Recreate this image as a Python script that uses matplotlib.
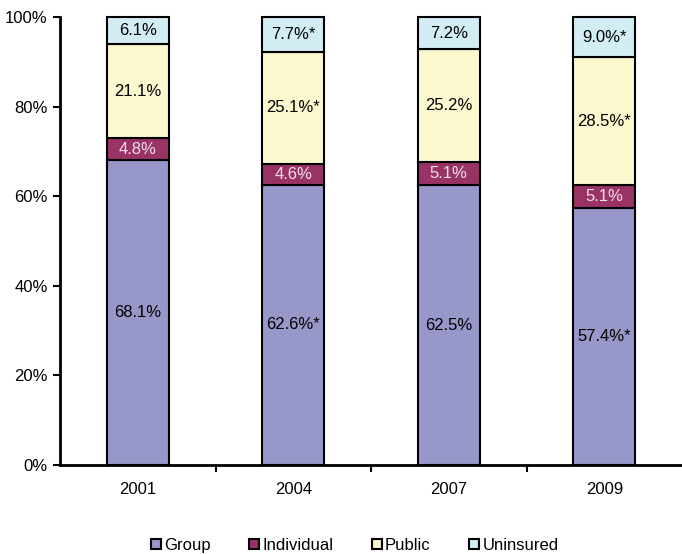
import matplotlib
matplotlib.use("Agg")
import matplotlib.pyplot as plt
import numpy as np

years = ["2001", "2004", "2007", "2009"]
group = [68.1, 62.6, 62.5, 57.4]
individual = [4.8, 4.6, 5.1, 5.1]
public = [21.1, 25.1, 25.2, 28.5]
uninsured = [6.1, 7.7, 7.2, 9.0]
group_lbl = ["68.1%", "62.6%*", "62.5%", "57.4%*"]
individual_lbl = ["4.8%", "4.6%", "5.1%", "5.1%"]
public_lbl = ["21.1%", "25.1%*", "25.2%", "28.5%*"]
uninsured_lbl = ["6.1%", "7.7%*", "7.2%", "9.0%*"]
series_names = ["Group", "Individual", "Public", "Uninsured"]
yticks = [0, 20, 40, 60, 80, 100]

plt.rcParams['font.family'] = ['Liberation Sans', 'DejaVu Sans']
fs = 12

fig = plt.figure(figsize=(6.82, 5.54), dpi=100)
ax = fig.add_axes([0.088, 0.1606, 0.912, 0.8087])

colors = ["#9797c9", "#993366", "#fbf8d0", "#d3edf4"]
txtcol = ["black", "#f0e0ea", "black", "black"]
data = [group, individual, public, uninsured]
labels = [group_lbl, individual_lbl, public_lbl, uninsured_lbl]

x = np.arange(len(years))
bottom = np.zeros(len(years))
for vals, c, tc, lbls, name in zip(data, colors, txtcol, labels, series_names):
    vals = np.array(vals)
    ax.bar(x, vals, bottom=bottom, width=0.4, color=c, edgecolor="black",
           linewidth=1.5, label=name, clip_on=False)
    for xi, b, v, l in zip(x, bottom, vals, lbls):
        ax.text(xi, b + v / 2, l, ha="center", va="center", fontsize=fs, color=tc)
    bottom = bottom + vals

ax.set_xlim(-0.5, 3.5)
ax.set_ylim(0, 100)
ax.set_yticks(yticks)
ax.set_yticklabels([f"{t}%" for t in yticks], fontsize=fs)
ax.set_xticks(x)
ax.set_xticklabels(years, fontsize=fs)
ax.set_xticks([0.5, 1.5, 2.5], minor=True)
ax.tick_params(axis="x", which="major", length=0, pad=12)
ax.tick_params(axis="x", which="minor", length=5, width=1.5, direction="out")
ax.tick_params(axis="y", length=5, width=1.5, direction="out", pad=4)
for s in ["top", "right"]:
    ax.spines[s].set_visible(False)
for s in ["left", "bottom"]:
    ax.spines[s].set_linewidth(2)

handles, lab = ax.get_legend_handles_labels()
fig.legend(handles, lab, loc="lower center", bbox_to_anchor=(0.52, -0.025), ncol=4,
           frameon=False, fontsize=fs, handlelength=0.6, handleheight=0.6,
           handletextpad=0.2, columnspacing=2.3)

fig.savefig("out.png", dpi=100)
